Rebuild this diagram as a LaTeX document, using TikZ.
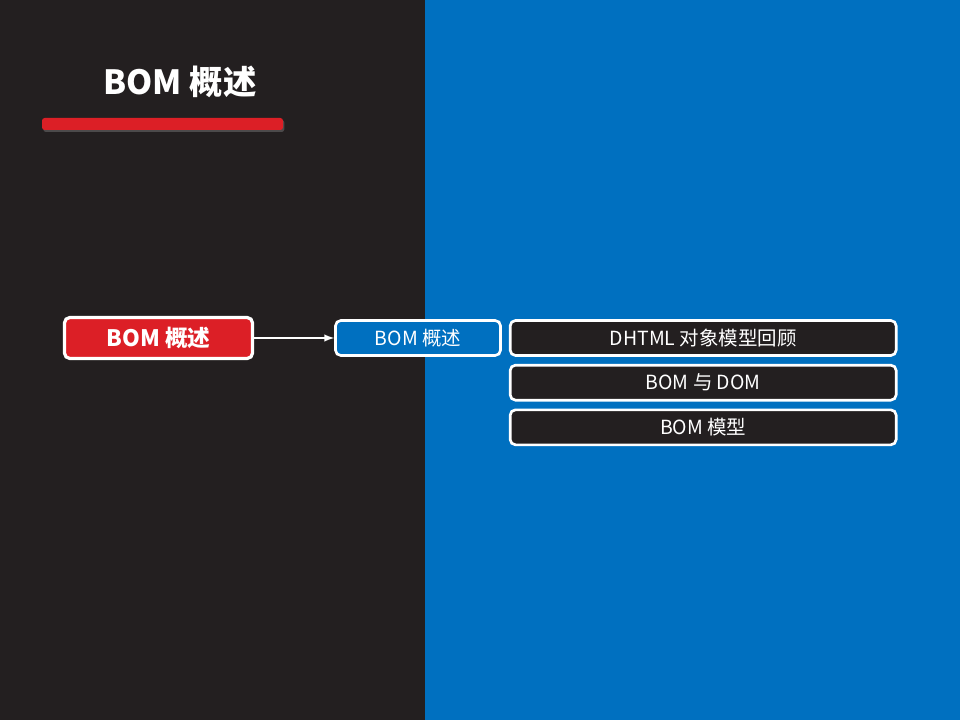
\documentclass[tikz,border=0pt]{standalone}
\usepackage{fontspec}
\setmainfont{Noto Sans CJK SC}
\usepackage{tikz}
\usetikzlibrary{arrows}
\usetikzlibrary{positioning, shadows}

\definecolor{panelDark}{HTML}{231F20}
\definecolor{panelBlue}{HTML}{0070C0}
\definecolor{bomRed}{HTML}{DC1F26}

\begin{document}
\begin{tikzpicture}[x=0.75pt, y=-0.75pt,
				   every node/.style={text=white, align=center, inner sep=0pt},
				   box/.style={draw=white, line width=2pt, rounded corners=4pt, minimum height=26.25pt},
				   mainbox/.style={box, fill=bomRed, line width=2.4pt, minimum width=141pt, minimum height=30.75pt, font=\fontsize{17}{20}\selectfont\bfseries},
				   subbox/.style={box, fill=panelBlue, minimum width=123.75pt, font=\fontsize{14.6}{17}\selectfont},
				   topicbox/.style={box, fill=panelDark, minimum width=289.5pt, font=\fontsize{14.6}{17}\selectfont}]
\useasboundingbox (0,0) rectangle (960,720);
\fill[panelDark] (0,0) rectangle (425,720);
\fill[panelBlue] (425,0) rectangle (960,720);
% title and bar
\node (title) at (180,82) {\fontsize{25}{29}\selectfont\bfseries BOM 概述};
\fill[bomRed, rounded corners=2pt, drop shadow={opacity=0.45, shadow xshift=1pt, shadow yshift=-1.5pt}] (42,118) rectangle (283,130);
% boxes
\node[mainbox] (main) at (158.5,338) {BOM 概述};
\node[subbox] (sub) at (418,338) {BOM 概述};
\node[topicbox, right=5.25pt of sub] (t1) {DHTML 对象模型回顾};
\node[topicbox, below=5.25pt of t1] (t2) {BOM 与 DOM};
\node[topicbox, below=5.25pt of t2] (t3) {BOM 模型};
\draw[-latex, white, line width=1.5pt] (main) -- (sub);
\end{tikzpicture}
\end{document}
